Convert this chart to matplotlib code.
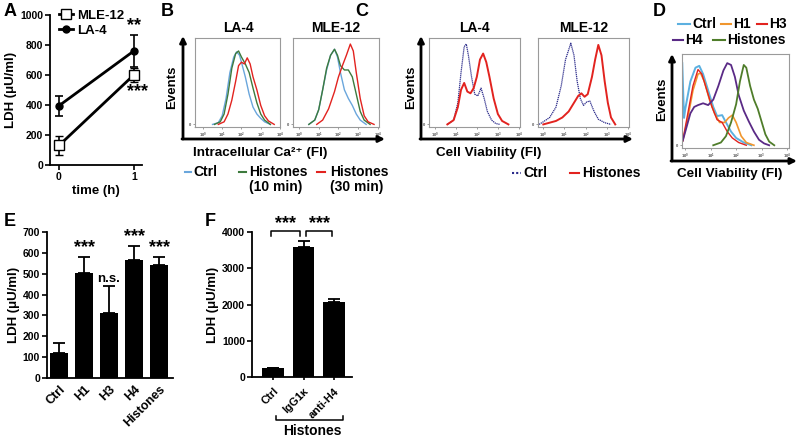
import matplotlib
matplotlib.use("Agg")
import matplotlib.pyplot as plt
from matplotlib.lines import Line2D
from matplotlib.patches import FancyArrowPatch

plt.rcParams["font.family"] = ["Liberation Sans", "DejaVu Sans"]
plt.rcParams["font.weight"] = "bold"
plt.rcParams["axes.labelweight"] = "bold"
plt.rcParams["mathtext.fontset"] = "custom"
plt.rcParams["mathtext.rm"] = "Liberation Sans:bold"
plt.rcParams["mathtext.bf"] = "Liberation Sans:bold"
plt.rcParams["mathtext.it"] = "Liberation Sans:bold"
plt.rcParams["mathtext.default"] = "rm"

W, H = 800, 436

# ---------------- data ----------------
# A: LDH over time
a_time = [0, 1]
a_mle = [130, 600]
a_mle_err = [65, 45]
a_la4 = [395, 760]
a_la4_err = [67, 108]

# B: intracellular Ca2+ histograms (x = log10 FI, y = events, % of box)
b_la4_ctrl_x = [0.5, 0.8, 1.0, 1.2, 1.4, 1.6, 1.75, 1.9, 2.0, 2.2, 2.4, 2.6, 2.8, 3.0, 3.2, 3.5]
b_la4_ctrl_y = [0, 2, 10, 30, 60, 78, 84, 80, 72, 55, 35, 20, 12, 7, 3, 0]
b_la4_h10_x = [0.6, 0.9, 1.1, 1.3, 1.5, 1.7, 1.85, 2.0, 2.2, 2.4, 2.6, 2.8, 3.0, 3.2, 3.5]
b_la4_h10_y = [0, 3, 12, 35, 65, 82, 85, 78, 70, 60, 42, 25, 12, 5, 0]
b_la4_h30_x = [0.8, 1.1, 1.3, 1.5, 1.7, 1.85, 2.0, 2.15, 2.3, 2.45, 2.6, 2.8, 3.0, 3.2, 3.4, 3.7]
b_la4_h30_y = [0, 3, 12, 28, 50, 68, 72, 70, 77, 70, 55, 40, 22, 10, 4, 0]

b_mle_ctrl_x = [0.5, 0.8, 1.0, 1.2, 1.4, 1.6, 1.8, 1.95, 2.1, 2.3, 2.5, 2.7, 2.9, 3.1, 3.4]
b_mle_ctrl_y = [0, 5, 17, 40, 63, 80, 87, 78, 60, 40, 30, 22, 12, 5, 0]
b_mle_h10_x = [0.5, 0.8, 1.0, 1.2, 1.4, 1.6, 1.8, 1.95, 2.1, 2.3, 2.5, 2.7, 2.9, 3.1, 3.3, 3.6]
b_mle_h10_y = [0, 5, 17, 40, 65, 80, 87, 80, 68, 63, 63, 55, 35, 15, 5, 0]
b_mle_h30_x = [0.9, 1.2, 1.5, 1.8, 2.0, 2.2, 2.4, 2.6, 2.75, 2.9, 3.1, 3.3, 3.5, 3.8]
b_mle_h30_y = [0, 5, 18, 38, 55, 68, 80, 93, 85, 60, 30, 10, 3, 0]

# C: cell viability histograms
c_la4_ctrl_x = [0.6, 0.9, 1.1, 1.25, 1.4, 1.5, 1.6, 1.75, 1.9, 2.05, 2.2, 2.35, 2.5, 2.7, 2.9, 3.1]
c_la4_ctrl_y = [0, 5, 25, 60, 90, 93, 80, 55, 35, 33, 42, 30, 15, 5, 1, 0]
c_la4_hist_x = [0.6, 0.9, 1.1, 1.25, 1.4, 1.55, 1.7, 1.85, 2.0, 2.15, 2.3, 2.45, 2.6, 2.8, 3.0, 3.2, 3.5]
c_la4_hist_y = [0, 5, 20, 40, 48, 38, 36, 42, 55, 75, 82, 72, 55, 30, 12, 4, 0]
c_mle_ctrl_x = [-0.2, 0.0, 0.3, 0.6, 0.85, 1.05, 1.3, 1.45, 1.6, 1.75, 1.9, 2.05, 2.2, 2.4, 2.6, 2.9, 3.2]
c_mle_ctrl_y = [0, 3, 8, 20, 45, 75, 94, 80, 50, 30, 22, 26, 27, 15, 6, 2, 0]
c_mle_hist_x = [0.0, 0.3, 0.6, 0.9, 1.2, 1.45, 1.65, 1.8, 1.95, 2.1, 2.3, 2.45, 2.6, 2.75, 2.9, 3.05, 3.2, 3.4]
c_mle_hist_y = [0, 2, 4, 8, 15, 25, 33, 36, 32, 35, 55, 75, 92, 80, 50, 25, 8, 0]

# D: cell viability with individual histones
d_ctrl_x = [-0.12, -0.05, 0.0, 0.2, 0.4, 0.55, 0.7, 0.9, 1.1, 1.25, 1.45, 1.6, 1.8, 2.0, 2.3, 2.6]
d_ctrl_y = [90, 30, 40, 70, 85, 87, 78, 60, 42, 32, 33, 25, 15, 8, 3, 0]
d_h1_x = [-0.1, 0.1, 0.3, 0.5, 0.6, 0.75, 0.95, 1.15, 1.35, 1.55, 1.7, 1.85, 2.0, 2.2, 2.4, 2.7]
d_h1_y = [5, 30, 60, 78, 79, 70, 50, 35, 25, 25, 30, 33, 25, 10, 3, 0]
d_h3_x = [-0.1, 0.1, 0.3, 0.5, 0.65, 0.85, 1.05, 1.25, 1.45, 1.65, 1.85, 2.1, 2.4]
d_h3_y = [5, 35, 65, 83, 78, 60, 42, 28, 25, 15, 8, 3, 0]
d_h4_x = [-0.1, 0.05, 0.2, 0.35, 0.5, 0.7, 0.9, 1.1, 1.3, 1.5, 1.65, 1.8, 1.95, 2.1, 2.3, 2.5, 2.7, 2.9, 3.1, 3.3]
d_h4_y = [5, 20, 35, 42, 44, 46, 44, 50, 65, 82, 90, 88, 75, 55, 38, 26, 15, 6, 2, 0]
d_hist_x = [1.1, 1.4, 1.6, 1.8, 2.0, 2.15, 2.3, 2.4, 2.55, 2.7, 2.85, 3.0, 3.15, 3.3, 3.5]
d_hist_y = [0, 3, 10, 25, 45, 70, 88, 85, 65, 50, 40, 26, 12, 4, 0]

# E: LDH with individual histones
e_labels = ["Ctrl", "H1", "H3", "H4", "Histones"]
e_vals = [120, 505, 310, 567, 540]
e_err = [50, 75, 130, 64, 40]
e_sig = ["", "***", "n.s.", "***", "***"]

# F: LDH with antibody
f_labels = ["Ctrl", "IgG1κ", "anti-H4"]
f_vals = [250, 3580, 2065]
f_err = [10, 170, 75]

# ---------------- helpers ----------------
fig = plt.figure(figsize=(W / 100, H / 100), dpi=100)


def box(l, t, r, b):
    return fig.add_axes([l / W, 1 - b / H, (r - l) / W, (b - t) / H])


def ftext(x, y, s, **kw):
    kw.setdefault("ha", "center")
    kw.setdefault("va", "center")
    kw.setdefault("fontweight", "bold")
    return fig.text(x / W, 1 - y / H, s, **kw)


def arrow(x0, y0, x1, y1):
    fig.add_artist(FancyArrowPatch((x0 / W, 1 - y0 / H), (x1 / W, 1 - y1 / H),
                                   transform=fig.transFigure, arrowstyle="-|>",
                                   mutation_scale=9, lw=2.0, color="black",
                                   shrinkA=0, shrinkB=0))


def hist_box(ax, lo, hi):
    ax.set_xscale("log")
    ax.set_xlim(10 ** lo, 10 ** hi)
    ax.set_ylim(-3, 100)
    for s in ax.spines.values():
        s.set_color("#9a9a9a")
        s.set_linewidth(0.8)
    ax.set_xticks([1, 10, 100, 1000, 10000])
    ax.set_yticks([0])
    ax.tick_params(labelsize=3, length=1.5, width=0.4, pad=1, colors="#555555")
    ax.tick_params(which="minor", length=0.8, width=0.3, colors="#888888")


def hline(ax, x, y, **kw):
    ax.plot([10 ** v for v in x], y, **kw)


def bar_style(ax):
    ax.spines["top"].set_visible(False)
    ax.spines["right"].set_visible(False)
    ax.spines["left"].set_linewidth(1.3)
    ax.spines["bottom"].set_linewidth(1.3)
    ax.tick_params(labelsize=7.5, length=3.5, width=1.2, pad=1.5)
    for lab in ax.get_yticklabels() + ax.get_xticklabels():
        lab.set_fontweight("bold")


# ---------------- A ----------------
axA = box(50, 15, 142, 165)
axA.errorbar(a_time, a_la4, yerr=a_la4_err, fmt="-o", color="black", mfc="black",
             ms=5, lw=2, elinewidth=1.2, capsize=3, capthick=1.2)
axA.errorbar(a_time, a_mle, yerr=a_mle_err, fmt="-s", color="black", mfc="white",
             mec="black", mew=1.0, ms=7, lw=2, elinewidth=1.2, capsize=3, capthick=1.2)
axA.set_xlim(-0.12, 1.11)
axA.set_ylim(0, 1000)
axA.set_yticks(range(0, 1001, 200))
axA.set_xticks([0, 1])
bar_style(axA)
axA.set_xlabel("time (h)", fontsize=9.5, labelpad=2)
axA.set_ylabel("LDH (μU/ml)", fontsize=9.5, labelpad=2)
handles = [Line2D([], [], color="black", lw=2, marker="s", mfc="white", ms=7),
           Line2D([], [], color="black", lw=2, marker="o", ms=5)]
axA.legend(handles, ["MLE-12", "LA-4"], loc="upper left", bbox_to_anchor=(0.04, 1.07),
           frameon=False, handlelength=1.1, handletextpad=0.3, labelspacing=0.2,
           borderaxespad=0, prop={"weight": "bold", "size": 9.5})
axA.text(1, a_la4[1] + a_la4_err[1] + 5, "**", ha="center", va="bottom", fontsize=13,
         fontweight="bold")
axA.text(1.05, a_mle[1] - a_mle_err[1] - 10, "***", ha="center", va="top", fontsize=13,
         fontweight="bold")

# ---------------- B ----------------
c_blue = "#6aa6dc"
c_green = "#3d7a3d"
c_red = "#e2231f"
axB1 = box(195, 38, 280, 127)
hist_box(axB1, -0.41, 4.0)
hline(axB1, b_la4_ctrl_x, b_la4_ctrl_y, color=c_blue, lw=1.0)
hline(axB1, b_la4_h10_x, b_la4_h10_y, color=c_green, lw=1.0)
hline(axB1, b_la4_h30_x, b_la4_h30_y, color=c_red, lw=1.0)
axB2 = box(293, 38, 379, 127)
hist_box(axB2, -0.3, 4.05)
hline(axB2, b_mle_ctrl_x, b_mle_ctrl_y, color=c_blue, lw=1.0)
hline(axB2, b_mle_h10_x, b_mle_h10_y, color=c_green, lw=1.0)
hline(axB2, b_mle_h30_x, b_mle_h30_y, color=c_red, lw=1.0)
ftext(238, 28, "LA-4", fontsize=10)
ftext(336, 28, "MLE-12", fontsize=10)
arrow(183, 139, 183, 36)
arrow(182, 139, 385, 139)
ftext(172, 87, "Events", fontsize=9.5, rotation=90)
ftext(260, 153, "Intracellular Ca²⁺ (FI)", fontsize=9.7)
for x0, x1, col in [(185, 191, c_blue), (239, 246, c_green), (317, 325, c_red)]:
    fig.add_artist(Line2D([x0 / W, x1 / W], [1 - 172 / H] * 2, color=col, lw=1.5))
ftext(193, 172, "Ctrl", fontsize=10, ha="left")
ftext(249, 172, "Histones", fontsize=10, ha="left")
ftext(249, 187, "(10 min)", fontsize=10, ha="left")
ftext(330, 172, "Histones", fontsize=10, ha="left")
ftext(330, 187, "(30 min)", fontsize=10, ha="left")

# ---------------- C ----------------
c_navy = "#2a2a8a"
axC1 = box(429, 38, 520, 127)
hist_box(axC1, -0.27, 4.05)
hline(axC1, c_la4_ctrl_x, c_la4_ctrl_y, color=c_navy, lw=0.9, ls=(0, (1, 0.6)))
hline(axC1, c_la4_hist_x, c_la4_hist_y, color=c_red, lw=1.4)
axC2 = box(538, 38, 629, 127)
hist_box(axC2, -0.25, 4.05)
hline(axC2, c_mle_ctrl_x, c_mle_ctrl_y, color=c_navy, lw=0.9, ls=(0, (1, 0.6)))
hline(axC2, c_mle_hist_x, c_mle_hist_y, color=c_red, lw=1.4)
ftext(474, 28, "LA-4", fontsize=10)
ftext(584, 28, "MLE-12", fontsize=10)
arrow(421, 139, 421, 36)
arrow(420, 139, 633, 139)
ftext(411, 87, "Events", fontsize=9.5, rotation=90)
ftext(489, 153, "Cell Viability (FI)", fontsize=9.7)
fig.add_artist(Line2D([512 / W, 521 / W], [1 - 173 / H] * 2, color=c_navy, lw=1.5,
                      ls=(0, (1, 1))))
ftext(523, 173, "Ctrl", fontsize=10, ha="left")
fig.add_artist(Line2D([570 / W, 579 / W], [1 - 173 / H] * 2, color=c_red, lw=1.5))
ftext(582, 173, "Histones", fontsize=10, ha="left")

# ---------------- D ----------------
d_cols = {"Ctrl": "#5cb0e0", "H1": "#f0962e", "H3": "#e2231f", "H4": "#5a2a86",
          "Histones": "#4f7d2a"}
axD = box(682, 54, 789, 148)
hist_box(axD, -0.13, 4.08)
hline(axD, d_ctrl_x, d_ctrl_y, color=d_cols["Ctrl"], lw=1.4)
hline(axD, d_h1_x, d_h1_y, color=d_cols["H1"], lw=1.2)
hline(axD, d_h3_x, d_h3_y, color=d_cols["H3"], lw=1.0)
hline(axD, d_h4_x, d_h4_y, color=d_cols["H4"], lw=1.3)
hline(axD, d_hist_x, d_hist_y, color=d_cols["Histones"], lw=1.3)
arrow(672, 161, 672, 54)
arrow(671, 161, 797, 161)
ftext(662, 99, "Events", fontsize=9.5, rotation=90)
ftext(730, 174, "Cell Viability (FI)", fontsize=9.7)
for name, x0, x1, tx, ty in [("Ctrl", 678, 690, 692, 24), ("H1", 721, 731, 733, 24),
                             ("H3", 757, 767, 769, 24), ("H4", 673, 683, 685, 40),
                             ("Histones", 713, 725, 727, 40)]:
    fig.add_artist(Line2D([x0 / W, x1 / W], [1 - ty / H] * 2, color=d_cols[name], lw=1.5))
    ftext(tx, ty, name, fontsize=10, ha="left")

# ---------------- E ----------------
axE = box(47, 232, 173, 378)
ex = list(range(len(e_vals)))
axE.bar(ex, e_vals, width=0.72, color="black",
        yerr=[[0] * len(e_err), e_err], capsize=4,
        error_kw=dict(elinewidth=1.3, capthick=1.3, ecolor="black"))
axE.set_xlim(-0.48, 4.56)
axE.set_ylim(0, 700)
axE.set_yticks(range(0, 701, 100))
axE.set_xticks(ex)
axE.set_xticklabels(e_labels, rotation=45, ha="right", rotation_mode="anchor")
bar_style(axE)
axE.tick_params(axis="x", length=0, labelsize=9, pad=4)
axE.set_ylabel("LDH (μU/ml)", fontsize=9.5, labelpad=2)
for i, s in enumerate(e_sig):
    if s:
        axE.text(i, e_vals[i] + e_err[i] + 5, s, ha="center", va="bottom",
                 fontsize=13 if s.startswith("*") else 9.5, fontweight="bold")

# ---------------- F ----------------
axF = box(252, 232, 352, 377)
fx = list(range(len(f_vals)))
axF.bar(fx, f_vals, width=0.7, color="black",
        yerr=[[0] * len(f_err), f_err], capsize=4,
        error_kw=dict(elinewidth=1.3, capthick=1.3, ecolor="black"))
axF.set_xlim(-0.69, 2.59)
axF.set_ylim(0, 4000)
axF.set_yticks(range(0, 4001, 1000))
axF.set_xticks(fx)
axF.set_xticklabels(f_labels, rotation=45, ha="right", rotation_mode="anchor")
bar_style(axF)
axF.tick_params(axis="x", length=2.5, labelsize=8, pad=4)
axF.set_ylabel("LDH (μU/ml)", fontsize=9.5, labelpad=2)
for a, b in [(-0.08, 0.9), (1.08, 1.95)]:
    axF.plot([a, a, b, b], [3900, 4030, 4030, 3900], color="black", lw=1.1, clip_on=False)
    axF.text((a + b) / 2, 3990, "***", ha="center", va="bottom", fontsize=13,
             fontweight="bold", clip_on=False)
trF = axF.get_xaxis_transform()
axF.plot([0.1, 0.1, 2.3, 2.3], [-0.27, -0.297, -0.297, -0.27], color="black", lw=1.1,
         transform=trF, clip_on=False)
axF.text(1.3, -0.37, "Histones", transform=trF, ha="center", va="center", fontsize=10,
         fontweight="bold")

# ---------------- panel letters ----------------
for s, x, y in [("A", 10, 12), ("B", 167, 12), ("C", 362, 12), ("D", 659, 12),
                ("E", 10, 222), ("F", 210, 222)]:
    ftext(x, y, s, fontsize=13)

fig.savefig("out.png", dpi=100)
